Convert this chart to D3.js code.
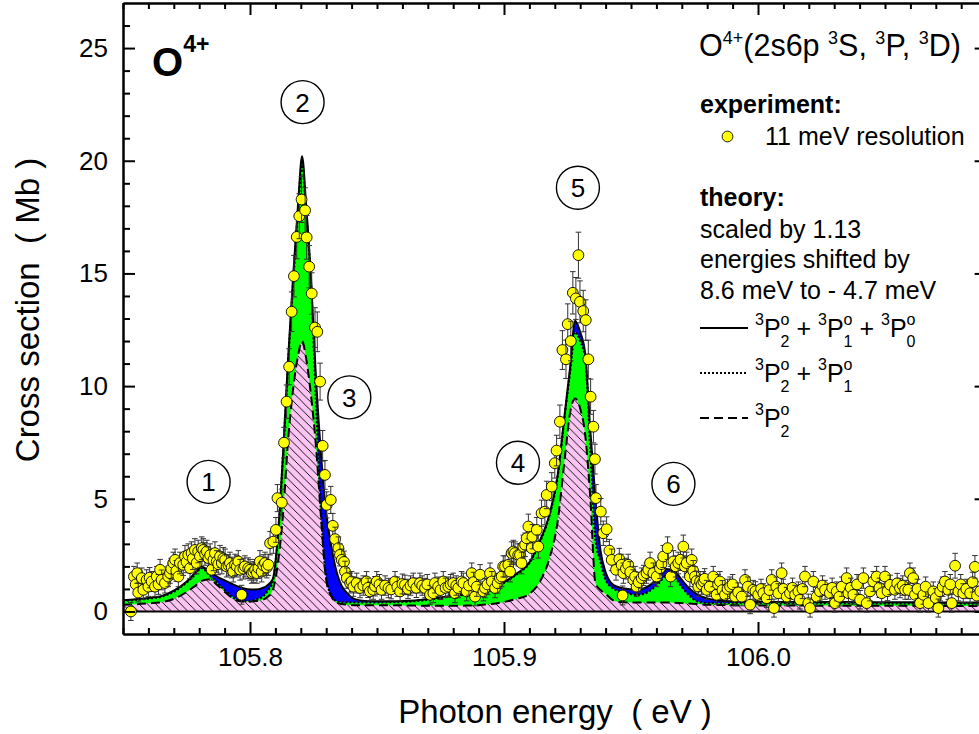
<!DOCTYPE html>
<html>
<head>
<meta charset="utf-8">
<script src="https://cdn.jsdelivr.net/npm/d3@7"></script>
<style>
  body { margin: 0; background: #fff; }
  svg text { font-family: "Liberation Sans", Arial, Helvetica, sans-serif; fill: #000; }
</style>
</head>
<body>
<svg id="chart" width="979" height="734"></svg>
<script>
// ---- theory: photoionization cross section (Mb) on an energy grid (eV) ----
const theoryEnergy = [
  105.750,105.755,105.760,105.765,105.770,105.775,105.778,105.781,105.784,105.787,
  105.790,105.793,105.796,105.799,105.802,105.805,105.807,105.809,105.811,105.813,
  105.815,105.817,105.819,105.8205,105.822,105.824,105.826,105.828,105.830,105.832,
  105.834,105.836,105.838,105.841,105.845,105.850,105.855,105.860,105.865,105.870,
  105.875,105.880,105.885,105.890,105.895,105.900,105.905,105.910,105.914,105.918,
  105.921,105.924,105.926,105.928,105.930,105.932,105.934,105.936,105.938,105.940,
  105.943,105.946,105.949,105.952,105.955,105.958,105.961,105.964,105.967,105.970,
  105.973,105.976,105.980,105.985,105.990,106.000,106.010,106.020,106.030,106.040,
  106.050,106.060,106.070,106.080,106.090];
// 3P2 + 3P1 + 3P0
const sigmaTotal = [
  0.50,0.54,0.60,0.68,0.92,1.32,1.66,1.98,1.78,1.55,
  1.38,1.22,1.08,0.99,0.97,1.04,1.18,1.45,3.40,7.00,
  11.2,14.9,18.2,20.2,18.2,14.8,10.3,6.9,4.4,2.9,
  1.8,1.15,0.85,0.56,0.47,0.45,0.45,0.46,0.49,0.55,
  0.62,0.70,0.77,0.86,1.05,1.30,1.68,2.18,3.10,4.35,
  5.95,8.85,10.8,12.9,12.4,11.4,8.0,5.0,2.7,1.75,
  1.18,1.05,1.00,0.96,1.02,1.22,1.52,1.88,1.80,1.40,
  1.02,0.76,0.58,0.48,0.45,0.43,0.42,0.42,0.42,0.41,
  0.41,0.41,0.40,0.40,0.40];
// 3P2 + 3P1
const sigmaP2P1 = [
  0.47,0.51,0.57,0.65,0.88,1.28,1.60,1.92,1.62,1.30,
  0.95,0.66,0.48,0.46,0.52,0.66,0.92,1.35,3.30,6.85,
  11.0,14.6,17.9,19.9,17.9,14.6,9.3,4.3,1.5,0.72,
  0.46,0.41,0.40,0.40,0.40,0.40,0.41,0.42,0.46,0.52,
  0.60,0.68,0.75,0.84,1.03,1.27,1.65,2.15,3.05,4.30,
  5.90,8.80,10.6,12.4,12.0,11.2,7.2,3.2,2.2,1.40,
  1.02,0.88,0.80,0.74,0.78,0.96,1.26,1.60,1.52,1.08,
  0.70,0.45,0.38,0.38,0.38,0.38,0.37,0.37,0.37,0.36,
  0.36,0.36,0.35,0.35,0.35];
// 3P2
const sigmaP2 = [
  0.30,0.32,0.36,0.41,0.56,0.86,1.10,1.36,1.43,1.18,
  0.88,0.60,0.45,0.43,0.46,0.52,0.65,0.96,2.15,4.30,
  7.60,9.90,11.4,12.0,11.3,9.6,7.3,4.1,1.4,0.68,
  0.40,0.33,0.30,0.28,0.28,0.28,0.28,0.27,0.26,0.25,
  0.25,0.25,0.26,0.28,0.33,0.42,0.56,0.78,1.30,2.40,
  3.90,6.87,8.80,9.45,9.00,7.80,5.0,1.25,0.95,0.78,
  0.49,0.42,0.40,0.40,0.40,0.40,0.40,0.40,0.39,0.37,
  0.35,0.33,0.30,0.29,0.28,0.27,0.26,0.26,0.25,0.25,
  0.25,0.25,0.24,0.24,0.24];

// ---- experiment: 11 meV resolution, scan 1 ----
const expEnergy = [
  105.7531,105.7543,105.7556,105.7560,105.7574,105.7580,105.7593,105.7600,105.7613,105.7626,
  105.7633,105.7646,105.7652,105.7665,105.7678,105.7685,105.7698,105.7705,105.7718,105.7724,
  105.7737,105.7744,105.7757,105.7764,105.7770,105.7783,105.7790,105.7796,105.7810,105.7816,
  105.7830,105.7836,105.7849,105.7856,105.7862,105.7869,105.7882,105.7889,105.7902,105.7908,
  105.7921,105.7934,105.7941,105.7954,105.7961,105.7967,105.7980,105.7993,105.8007,105.8020,
  105.8033,105.8039,105.8046,105.8059,105.8072,105.8079,105.8092,105.8102,105.8108,105.8125,
  105.8134,105.8144,105.8154,105.8164,105.8173,105.8184,105.8194,105.8203,105.8217,105.8223,
  105.8233,105.8243,105.8256,105.8265,105.8276,105.8286,105.8295,105.8302,105.8318,105.8326,
  105.8335,105.8348,105.8354,105.8361,105.8370,105.8374,105.8381,105.8394,105.8400,105.8407,
  105.8420,105.8433,105.8459,105.8472,105.8485,105.8499,105.8518,105.8545,105.8571,105.8591,
  105.8610,105.8643,105.8669,105.8689,105.8709,105.8722,105.8728,105.8741,105.8761,105.8781,
  105.8800,105.8807,105.8820,105.8833,105.8840,105.8853,105.8873,105.8886,105.8893,105.8906,
  105.8919,105.8925,105.8945,105.8952,105.8965,105.8984,105.8991,105.8997,105.9004,105.9017,
  105.9024,105.9030,105.9037,105.9043,105.9056,105.9063,105.9069,105.9076,105.9083,105.9089,
  105.9096,105.9109,105.9112,105.9129,105.9135,105.9148,105.9161,105.9168,105.9188,105.9200,
  105.9207,105.9220,105.9230,105.9244,105.9251,105.9263,105.9271,105.9283,105.9293,105.9299,
  105.9312,105.9322,105.9332,105.9341,105.9352,105.9358,105.9362,105.9381,105.9391,105.9404,
  105.9415,105.9424,105.9441,105.9454,105.9463,105.9467,105.9470,105.9489,105.9509,105.9522,
  105.9542,105.9561,105.9575,105.9601,105.9614,105.9627,105.9644,105.9656,105.9667,105.9686,
  105.9706,105.9719,105.9732,105.9739,105.9752,105.9765,105.9772,105.9785,105.9798,105.9824,
  105.9837,105.9850,105.9870,105.9890,105.9910,105.9936,105.9949,105.9969,105.9981,106.0001,
  106.0021,106.0034,106.0054,106.0063,106.0080,106.0093,106.0113,106.0126,106.0146,106.0159,
  106.0165,106.0185,106.0198,106.0205,106.0218,106.0231,106.0244,106.0264,106.0283,106.0303,
  106.0310,106.0330,106.0349,106.0356,106.0375,106.0402,106.0415,106.0428,106.0441,106.0454,
  106.0467,106.0487,106.0500,106.0520,106.0539,106.0559,106.0579,106.0592,106.0598,106.0611,
  106.0618,106.0638,106.0651,106.0671,106.0690,106.0710,106.0717,106.0736,106.0749,106.0763,
  106.0776,106.0789,106.0808,106.0835,106.0854,106.0862,106.0875];
const expSigma = [
  0.00,1.55,1.70,0.84,1.48,0.96,1.40,1.10,1.33,1.10,
  1.55,1.85,1.40,1.26,1.55,1.70,2.15,2.29,1.55,2.15,
  2.07,2.44,2.51,1.92,2.59,2.73,2.15,2.66,2.81,2.73,
  2.66,2.37,1.85,2.29,2.59,2.22,2.44,2.15,2.29,2.00,
  2.15,1.77,2.07,2.22,1.85,0.74,2.00,1.92,1.70,1.85,
  1.92,2.22,1.77,2.15,2.07,3.03,3.10,3.62,5.03,4.83,
  7.49,9.31,10.86,13.30,14.88,16.62,17.54,18.28,17.80,16.60,
  15.30,14.11,12.60,12.41,10.20,7.35,6.06,4.73,4.95,3.80,
  3.21,2.81,2.51,2.29,2.20,1.77,1.48,1.26,1.33,1.10,
  1.26,1.04,1.33,0.89,0.96,1.33,0.96,1.04,1.33,0.89,
  1.18,1.26,1.26,1.04,0.74,0.81,1.26,1.10,1.33,1.10,
  1.26,0.81,1.04,1.33,1.26,0.89,1.70,0.66,1.10,1.63,
  0.89,1.04,1.70,1.33,1.04,1.48,1.55,2.00,2.00,2.07,
  1.77,2.59,2.66,2.59,2.51,2.51,2.15,2.88,2.96,3.25,
  3.77,2.81,3.32,3.62,2.88,4.36,4.43,5.17,5.54,6.58,
  7.14,8.42,11.60,11.19,12.75,12.00,14.14,13.89,15.81,13.74,
  13.33,12.93,11.19,9.53,8.20,6.76,5.03,4.43,3.47,3.65,
  2.70,2.29,1.85,2.32,2.07,0.71,1.70,2.07,1.40,1.10,
  1.48,1.70,2.15,1.55,1.92,2.44,2.81,1.55,2.22,2.15,
  2.88,2.15,1.55,2.29,1.55,1.10,1.33,1.33,0.96,1.55,
  0.74,1.33,0.74,1.10,0.66,0.66,1.40,0.30,0.96,0.74,
  0.81,0.59,1.40,0.15,0.81,1.70,0.66,0.81,0.74,0.89,
  0.52,1.55,0.37,0.15,1.33,0.66,0.89,0.96,0.81,0.37,
  0.89,1.10,1.48,0.81,0.74,0.52,1.48,0.37,0.89,1.33,
  1.55,0.81,1.55,1.18,0.96,1.04,0.96,0.96,1.70,1.48,
  0.74,0.37,0.74,0.37,0.89,0.15,0.89,1.33,0.96,0.37,
  2.03,0.89,0.81,0.81,1.98,0.70,0.90];
const expError = [
  .40,.45,.45,.42,.45,.42,.45,.43,.44,.43,
  .45,.46,.44,.44,.45,.45,.48,.48,.45,.48,
  .47,.49,.49,.46,.50,.50,.48,.50,.50,.50,
  .50,.49,.46,.48,.50,.48,.49,.48,.48,.47,
  .48,.46,.47,.48,.46,.42,.47,.46,.45,.46,
  .46,.48,.46,.48,.47,.52,.52,.55,.60,.60,
  .68,.74,.80,.88,.92,.97,1.0,1.02,1.0,.97,
  .94,.92,.88,.88,.82,.68,.64,.58,.60,.55,
  .53,.50,.49,.48,.48,.46,.45,.44,.44,.43,
  .44,.43,.44,.42,.42,.44,.42,.43,.44,.42,
  .43,.44,.44,.43,.42,.42,.44,.43,.44,.43,
  .44,.42,.43,.44,.44,.42,.45,.41,.43,.45,
  .42,.43,.45,.44,.43,.45,.45,.47,.47,.47,
  .46,.50,.50,.50,.49,.49,.48,.51,.52,.53,
  .55,.50,.54,.55,.51,.58,.58,.61,.62,.66,
  .68,.74,.86,.85,.90,.88,.94,.93,1.02,.93,
  .92,.90,.85,.78,.72,.66,.60,.58,.54,.55,
  .50,.48,.46,.48,.47,.42,.45,.47,.45,.43,
  .45,.45,.48,.45,.46,.49,.50,.45,.48,.48,
  .51,.48,.45,.48,.45,.43,.44,.44,.42,.45,
  .42,.44,.42,.43,.41,.41,.45,.40,.42,.42,
  .42,.41,.45,.40,.42,.45,.41,.42,.42,.42,
  .41,.45,.40,.40,.44,.41,.42,.42,.42,.40,
  .42,.43,.45,.42,.42,.41,.45,.40,.42,.44,
  .45,.42,.45,.43,.42,.43,.42,.42,.45,.45,
  .42,.40,.42,.40,.42,.40,.42,.44,.42,.40,
  .55,.42,.42,.42,.50,.42,.42];

// ---- experiment: scan 2 (interleaved energies) ----
const scan2Energy = [
  105.7550,105.7605,105.7640,105.7690,105.7710,105.7750,105.7775,105.7803,105.7823,105.7843,
  105.7875,105.7895,105.7915,105.7928,105.7948,105.7974,105.8000,105.8013,105.8027,105.8052,
  105.8066,105.8446,105.8465,105.8492,105.8510,105.8532,105.8556,105.8580,105.8600,105.8622,
  105.8632,105.8655,105.8678,105.8698,105.8750,105.8770,105.8790,105.8812,105.8862,105.8880,
  105.8935,105.8975,105.9480,105.9497,105.9516,105.9530,105.9550,105.9568,105.9588,105.9620,
  105.9676,105.9695,105.9712,105.9745,105.9758,105.9778,105.9790,105.9810,105.9843,105.9860,
  105.9880,105.9900,105.9922,105.9960,105.9990,106.0012,106.0045,106.0072,106.0100,106.0136,
  106.0175,106.0254,106.0292,106.0320,106.0365,106.0390,106.0478,106.0510,106.0548,106.0570,
  106.0628,106.0660,106.0700,106.0727,106.0757,106.0798,106.0820,106.0845];
const scan2Sigma = [
  1.20,1.50,1.20,1.90,1.80,2.20,2.35,2.45,2.55,2.50,
  2.10,2.35,2.05,1.95,2.00,1.90,1.85,1.75,1.70,2.05,
  1.95,1.15,1.05,1.12,1.20,1.15,0.98,1.10,1.22,1.00,
  1.15,1.05,1.15,1.20,0.95,1.05,1.20,1.15,1.15,1.30,
  1.20,1.25,1.90,1.75,1.55,1.30,1.60,1.85,1.70,2.10,
  2.00,2.30,2.00,1.80,1.35,1.20,1.45,1.10,1.20,0.95,
  1.00,1.20,0.85,1.10,0.90,1.00,0.95,1.10,1.00,1.05,
  1.00,1.15,1.05,0.65,1.05,1.20,1.05,0.90,1.25,1.15,
  1.00,1.10,0.60,1.10,1.20,1.20,1.00,1.30];
const scan2Error = [
  .44,.45,.44,.46,.46,.48,.49,.49,.50,.50,
  .47,.49,.47,.46,.47,.46,.46,.46,.45,.47,
  .46,.43,.43,.43,.44,.43,.42,.43,.44,.43,
  .43,.43,.43,.44,.42,.43,.44,.43,.43,.44,
  .44,.44,.46,.46,.45,.44,.45,.46,.45,.47,
  .47,.48,.47,.46,.44,.44,.45,.43,.44,.42,
  .43,.44,.42,.43,.42,.43,.42,.43,.43,.43,
  .43,.43,.43,.41,.43,.44,.43,.42,.44,.43,
  .43,.43,.41,.43,.44,.44,.43,.44];

// ---- axes ----
const xMajorTicks = [105.8, 105.9, 106.0];
const xMinorTicks = [105.75,105.76,105.77,105.78,105.79,105.81,105.82,105.83,105.84,105.85,
                     105.86,105.87,105.88,105.89,105.91,105.92,105.93,105.94,105.95,105.96,
                     105.97,105.98,105.99,106.01,106.02,106.03,106.04,106.05,106.06,106.07,106.08];
const yMajorTicks = [0, 5, 10, 15, 20, 25];
const yMinorTicks = [1,2,3,4,6,7,8,9,11,12,13,14,16,17,18,19,21,22,23,24,26];
const peakNumbers = ["1", "2", "3", "4", "5", "6"];

const svg = d3.select("#chart");
const x = d3.scaleLinear().domain([105.75, 106.09]).range([123, 986.6]);
const y = d3.scaleLinear().domain([-1, 27]).range([634, 3]);

// hatch for the 3P2 area
const defs = svg.append("defs");
const hs = 8.3;
const pat = defs.append("pattern").attr("id", "hatch")
  .attr("patternUnits", "userSpaceOnUse").attr("width", hs).attr("height", hs);
pat.append("rect").attr("width", hs).attr("height", hs).attr("fill", "#fbc4f3");
pat.append("path")
  .attr("d", `M-1,-1L${hs+1},${hs+1}M${hs-1.5},-1.5L${hs+1.5},1.5M-1.5,${hs-1.5}L1.5,${hs+1.5}`)
  .attr("stroke", "#000").attr("stroke-width", 0.9);
defs.append("clipPath").attr("id", "plotClip").append("rect")
  .attr("x", x.range()[0]).attr("y", y.range()[1])
  .attr("width", x.range()[1] - x.range()[0]).attr("height", y.range()[0] - y.range()[1]);

const theory = theoryEnergy.map((e, i) => ({ e, tot: sigmaTotal[i], p21: sigmaP2P1[i], p2: sigmaP2[i] }));
const exp = expEnergy.map((e, i) => ({ e, s: expSigma[i], err: expError[i] }))
  .concat(scan2Energy.map((e, i) => ({ e, s: scan2Sigma[i], err: scan2Error[i] })))
  .sort((a, b) => a.e - b.e);

const plot = svg.append("g").attr("clip-path", "url(#plotClip)");
const areaOf = key => d3.area().x(d => x(d.e)).y0(y(0)).y1(d => y(d[key])).curve(d3.curveMonotoneX);
const lineOf = key => d3.line().x(d => x(d.e)).y(d => y(d[key])).curve(d3.curveMonotoneX);

plot.append("path").datum(theory).attr("d", areaOf("tot")).attr("fill", "#0000ff");
plot.append("path").datum(theory).attr("d", areaOf("p21")).attr("fill", "#00ff00");
plot.append("path").datum(theory).attr("d", areaOf("p2")).attr("fill", "url(#hatch)");

plot.append("path").datum(theory).attr("d", lineOf("p2")).attr("fill", "none")
  .attr("stroke", "#000").attr("stroke-width", 2).attr("stroke-dasharray", "9 5");
plot.append("path").datum(theory).attr("d", lineOf("p21")).attr("fill", "none")
  .attr("stroke", "#000").attr("stroke-width", 2.2).attr("stroke-dasharray", "2 2");
plot.append("path").datum(theory).attr("d", lineOf("tot")).attr("fill", "none")
  .attr("stroke", "#000").attr("stroke-width", 2);

// zero line
plot.append("line").attr("x1", x.range()[0]).attr("x2", x.range()[1])
  .attr("y1", y(0)).attr("y2", y(0)).attr("stroke", "#000").attr("stroke-width", 2);

// axes with inward ticks on all four sides
function styleAxis(g, fs) {
  g.attr("font-size", fs).attr("font-family", '"Liberation Sans", Arial, sans-serif')
   .attr("stroke-width", 2);
  g.selectAll("text").attr("fill", "#000");
}
const H = y.range()[0], T = y.range()[1], L = x.range()[0], R = x.range()[1];
svg.append("g").attr("transform", `translate(0,${H})`)
  .call(d3.axisBottom(x).tickValues(xMinorTicks).tickSizeInner(-6).tickSizeOuter(0).tickFormat(""))
  .call(g => styleAxis(g, 26));
svg.append("g").attr("transform", `translate(0,${H})`)
  .call(d3.axisBottom(x).tickValues(xMajorTicks).tickSizeInner(-12).tickSizeOuter(0)
        .tickPadding(14).tickFormat(d3.format(".1f")))
  .call(g => styleAxis(g, 26));
svg.append("g").attr("transform", `translate(0,${T})`)
  .call(d3.axisTop(x).tickValues(xMinorTicks).tickSizeInner(-6).tickSizeOuter(0).tickFormat(""))
  .call(g => styleAxis(g, 26));
svg.append("g").attr("transform", `translate(0,${T})`)
  .call(d3.axisTop(x).tickValues(xMajorTicks).tickSizeInner(-12).tickSizeOuter(0).tickFormat(""))
  .call(g => styleAxis(g, 26));
svg.append("g").attr("transform", `translate(${L},0)`)
  .call(d3.axisLeft(y).tickValues(yMinorTicks).tickSizeInner(-7).tickSizeOuter(0).tickFormat(""))
  .call(g => styleAxis(g, 26));
svg.append("g").attr("transform", `translate(${L},0)`)
  .call(d3.axisLeft(y).tickValues(yMajorTicks).tickSizeInner(-12).tickSizeOuter(0)
        .tickPadding(15).tickFormat(d3.format("d")))
  .call(g => styleAxis(g, 26));
svg.append("g").attr("transform", `translate(${R},0)`)
  .call(d3.axisRight(y).tickValues(yMinorTicks).tickSizeInner(-7).tickSizeOuter(0).tickFormat(""))
  .call(g => styleAxis(g, 26));
svg.append("g").attr("transform", `translate(${R},0)`)
  .call(d3.axisRight(y).tickValues(yMajorTicks).tickSizeInner(-12).tickSizeOuter(0).tickFormat(""))
  .call(g => styleAxis(g, 26));

// experimental points with error bars
const pts = plot.append("g").selectAll("g").data(exp).join("g");
pts.append("path")
  .attr("d", d => {
    const cx = x(d.e), y1 = y(d.s + d.err), y0 = y(d.s - d.err);
    return `M${cx},${y0}V${y1}M${cx-2.8},${y1}H${cx+2.8}M${cx-2.8},${y0}H${cx+2.8}`;
  })
  .attr("stroke", "#333").attr("stroke-width", 1).attr("fill", "none");
pts.append("circle").attr("cx", d => x(d.e)).attr("cy", d => y(d.s)).attr("r", 5.4)
  .attr("fill", "#ffff00").attr("stroke", "#000").attr("stroke-width", 0.9);

// numbered resonance markers
const markerAt = [[105.7837, 5.75], [105.8207, 22.6], [105.8391, 9.5],
                  [105.9055, 6.6], [105.9291, 18.8], [105.9667, 5.66]];
const marks = svg.append("g").selectAll("g").data(peakNumbers).join("g")
  .attr("transform", (d, i) => `translate(${x(markerAt[i][0])},${y(markerAt[i][1])})`);
marks.append("circle").attr("r", 21.5).attr("fill", "none").attr("stroke", "#000").attr("stroke-width", 1.4);
marks.append("text").attr("text-anchor", "middle").attr("dy", "0.36em").attr("font-size", 26).text(d => d);

// rich text helper (super/subscripts)
function rich(sel, segs) {
  segs.forEach(s => {
    const t = sel.append("tspan").text(s.t);
    if (s.fs) t.attr("font-size", s.fs);
    if (s.dy) t.attr("dy", s.dy);
    if (s.dx) t.attr("dx", s.dx);
  });
  return sel;
}

// ion label
rich(svg.append("text").attr("x", 152).attr("y", 76).attr("font-weight", "bold"),
  [{ t: "O", fs: 40 }, { t: "4+", fs: 23, dy: -24 }]);

// configuration title
rich(svg.append("text").attr("x", 699).attr("y", 56).attr("font-size", 30.5).style("white-space", "pre"),
  [{ t: "O" }, { t: "4+", fs: 18, dy: -12 }, { t: "(2s6p ", dy: 12 },
   { t: "3", fs: 18, dy: -12 }, { t: "S, ", dy: 12 },
   { t: "3", fs: 18, dy: -12 }, { t: "P, ", dy: 12 },
   { t: "3", fs: 18, dy: -12 }, { t: "D)", dy: 12 }]);

// legend
const lg = svg.append("g").attr("font-size", 25);
lg.append("text").attr("x", 700).attr("y", 113).attr("font-weight", "bold").text("experiment:");
lg.append("circle").attr("cx", 727.5).attr("cy", 136.5).attr("r", 5.4)
  .attr("fill", "#ffff00").attr("stroke", "#000").attr("stroke-width", 0.9);
lg.append("text").attr("x", 765).attr("y", 145).text("11 meV resolution");
lg.append("text").attr("x", 700).attr("y", 206).attr("font-weight", "bold").text("theory:");
lg.append("text").attr("x", 700).attr("y", 238).text("scaled by 1.13");
lg.append("text").attr("x", 700).attr("y", 268).text("energies shifted by");
lg.append("text").attr("x", 700).attr("y", 299).text("8.6 meV to - 4.7 meV");

const legendRows = [
  { y: 328, dash: null, w: 2, subs: ["2", "1", "0"] },
  { y: 373, dash: "2 2", w: 2.2, subs: ["2", "1"] },
  { y: 418, dash: "9 5", w: 2, subs: ["2"] }
];
legendRows.forEach(r => {
  const ln = lg.append("line").attr("x1", 700).attr("x2", 748).attr("y1", r.y).attr("y2", r.y)
    .attr("stroke", "#000").attr("stroke-width", r.w);
  if (r.dash) ln.attr("stroke-dasharray", r.dash);
  const segs = [];
  r.subs.forEach((s, i) => {
    if (i > 0) segs.push({ t: " + ", dy: -10 });
    segs.push({ t: "3", fs: 16, dy: -12 });
    segs.push({ t: "P", dy: 12 });
    segs.push({ t: "o", fs: 16, dy: -12 });
    segs.push({ t: s, fs: 16, dx: -8.9, dy: 22 });
  });
  rich(lg.append("text").attr("x", 755).attr("y", r.y + 9).style("white-space", "pre"), segs);
});

// axis titles
svg.append("text").attr("x", 555).attr("y", 723).attr("text-anchor", "middle")
  .attr("font-size", 33).style("white-space", "pre").text("Photon energy  ( eV )");
svg.append("text").attr("transform", "translate(39,310) rotate(-90)").attr("text-anchor", "middle")
  .attr("font-size", 33).style("white-space", "pre").text("Cross section  ( Mb )");
</script>
</body>
</html>
